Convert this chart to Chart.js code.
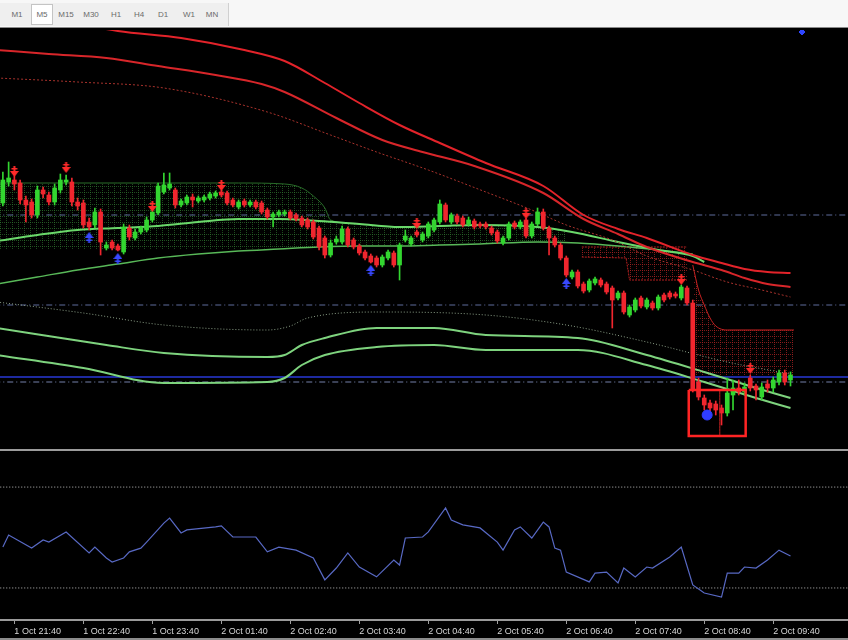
<!DOCTYPE html>
<html>
<head>
<meta charset="utf-8">
<script src="https://cdn.jsdelivr.net/npm/chart.js@4.4.1/dist/chart.umd.min.js"></script>
<style>
  html, body { margin: 0; padding: 0; background: #000; }
  body { width: 848px; height: 640px; position: relative; overflow: hidden; font-family: 'Liberation Sans', Arial, sans-serif; }
  #toolbar { position: absolute; left: 0; top: 0; width: 848px; height: 28px; background: #f7f7f7; border-bottom: 1px solid #8a8a8a; box-sizing: border-box; }
  #tfbar { position: absolute; left: 0; top: 3px; width: 228px; height: 23px; background: #efefef; border-right: 1px solid #d0d0d0; }
  #tfbar span { position: absolute; top: 1px; width: 22px; height: 21px; line-height: 21px; text-align: center; font-size: 8px; color: #6a6a6a; }
  #tfbar span.on { background: #fff; border: 1px solid #c4c4c4; box-sizing: border-box; line-height: 19px; }
  #main { position: absolute; left: 0; top: 30px; }
  #sep { position: absolute; left: 0; top: 449px; width: 848px; height: 2px; background: #9c9c9c; }
  #sub { position: absolute; left: 0; top: 452px; }
  #foot { position: absolute; left: 0; top: 638px; width: 848px; height: 2px; background: #8c8c8c; }
</style>
</head>
<body>
<div id="toolbar">
  <div id="tfbar">
    <span style="left:6px">M1</span>
    <span class="on" style="left:31px">M5</span>
    <span style="left:55px">M15</span>
    <span style="left:80px">M30</span>
    <span style="left:105px">H1</span>
    <span style="left:128px">H4</span>
    <span style="left:152px">D1</span>
    <span style="left:178px">W1</span>
    <span style="left:201px">MN</span>
  </div>
</div>
<canvas id="main" width="848" height="418"></canvas>
<div id="sep"></div>
<canvas id="sub" width="848" height="188"></canvas>
<div id="foot"></div>
<script>
// time axis
const timeLabels = ['1 Oct 21:40', '1 Oct 22:40', '1 Oct 23:40', '2 Oct 01:40', '2 Oct 02:40', '2 Oct 03:40',
                    '2 Oct 04:40', '2 Oct 05:40', '2 Oct 06:40', '2 Oct 07:40', '2 Oct 08:40', '2 Oct 09:40'];
const tickBars = [2, 14, 26, 38, 50, 62, 74, 86, 98, 110, 122, 134];

// M5 candles, prices in points above the window base
const opens = [245,266,268,265,248,246,233,258,253,246, 258,266,266,246,245,226,223,236,200,206,
               202,196,220,210,216,218,228,235,256,260, 258,243,245,251,247,248,250,252,256,255,
               248,241,247,243,246,245,238,231,233,234, 236,233,230,228,226,220,210,193,206,206,
               219,208,202,196,192,190,183,190,195,183, 208,204,216,208,212,218,226,243,226,232,
               230,224,227,224,224,220,216,205,210,225, 221,228,212,224,236,220,210,203,190,171,
               176,164,158,165,168,164,160,150,155,133, 138,150,141,145,140,153,155,154,150,160,
               145,66,50,45,44,40,35,53,60,56, 70,62,51,64,60,66,75,68];
const highs = [276,286,272,268,252,249,262,261,256,264, 274,273,270,250,248,230,240,239,206,208,
               204,224,223,219,222,231,239,265,275,275, 260,249,253,254,252,253,256,257,258,257,
               250,248,249,248,248,247,240,236,238,238, 238,235,232,230,228,222,212,208,212,222,
               221,210,204,198,194,192,193,198,197,205, 218,212,218,216,226,230,248,245,235,234,
               232,231,229,226,226,222,218,212,226,227, 228,230,226,240,239,222,212,205,192,178,
               178,166,169,171,170,166,162,157,157,143, 150,152,150,147,153,155,157,156,163,162,
               148,70,53,48,47,43,70,68,68,65, 73,64,65,68,71,78,78,76];
const lows = [242,262,258,244,226,230,230,250,243,243, 255,263,242,238,220,218,220,193,198,198,
              197,194,208,208,214,216,226,233,254,258, 240,241,243,241,245,246,248,250,251,243,
              241,239,241,241,239,234,229,221,231,232, 228,227,221,219,209,198,190,191,204,204,
              201,199,193,188,185,181,181,188,181,168, 206,202,211,206,210,216,224,226,224,224,
              221,222,219,220,219,213,205,203,208,219, 219,210,210,222,218,193,201,188,171,169,
              160,155,156,163,161,154,120,148,134,131, 136,140,139,138,138,146,149,150,148,143,
              56,48,38,30,33,23,32,38,53,53, 57,48,48,56,56,63,63,62];
const closes = [268,270,264,248,243,233,258,254,246,260, 268,268,246,242,223,221,236,206,203,200,
                198,221,211,216,220,228,236,262,263,264, 243,247,251,248,250,251,254,255,253,245,
                243,246,243,246,241,236,231,234,236,236, 230,229,223,221,211,201,193,205,209,219,
                203,201,195,190,186,183,191,196,183,203, 212,210,213,214,224,228,244,228,233,226,
                223,228,221,222,221,215,207,210,224,221, 226,212,224,236,220,210,203,190,173,176,
                162,157,167,169,163,156,148,155,136,141, 148,142,148,140,151,148,151,152,161,145,
                58,51,43,40,38,35,55,60,56,61, 60,58,61,60,68,75,66,73];

// signal arrows [bar, price]
const sellSignals = [[2, 276], [11, 280], [26, 241], [38, 262], [72, 224], [91, 234], [118, 168], [130, 79]];
const buySignals = [[15, 211], [20, 190], [64, 178], [98, 165]];
const buyDot = [[122.5, 33]];
const cornerMark = [[139, 416]];

// upper red envelope [bar, price]
const redUpper = [[10,428],[20,417],[31,410],[42,398],[49,387],[56,365],[62,345],[69,323],[76,305],[84,285],
                  [94,262],[101,233],[107,219],[112,210],[120,193],[125,185],[129,179],[133,176],[137,175]];
const redMiddle = [[-1,398],[8,394],[18,390],[27,382],[37,373],[45,364],[49,356],[58,330],[66,308],[73,296],
                   [82,282],[94,255],[101,229],[107,214],[112,201],[120,186],[125,178],[129,170],[133,164],[137,161]];
const redDotted = [[-1,370],[13,366],[28,360],[46,336],[57,313],[65,296],[74,278],[84,256],[92,238],[98,223],
                   [106,208],[112,192],[120,178],[126,166],[132,158],[137,151]];

// green averages
const greenMa = [[-1,207],[6,213],[13,218],[20,220],[27,222],[34,226],[41,229],[48,229],[55,227],[62,224],
                 [69,221],[76,222],[83,223],[93,221],[99,216],[107,206],[114,198],[120,192],[122,186]];
const greenBase = [[-1,164],[6,171],[13,178],[20,184],[27,190],[34,194],[41,197],[48,199],[55,201],[62,202],
                   [69,202],[76,203],[83,204],[93,206],[100,205],[107,202],[114,198],[120,194]];

// lower channel
const bandDotted = [[-1,146],[14,135],[28,123],[46,118],[50,122],[53,130],[66,136],[84,133],[98,123],
                    [112,106],[126,86],[137,74]];
const bandUpper = [[-1,120],[18,103],[28,95],[46,91],[49,93],[52,103],[56,110],[65,120],[75,120],[84,113],
                   [100,110],[112,93],[122,76],[131,60],[137,50]];
const bandLower = [[-1,93],[14,80],[28,65],[46,66],[49,70],[52,83],[56,93],[65,101],[75,103],[84,98],
                   [100,98],[112,83],[122,66],[131,50],[137,40]];

// hatched zones
const cloudBars = [-1, 20, 41, 49, 52, 54, 56, 57, 62, 69, 76, 83, 93, 98];
const cloudTop = [265, 265, 265, 264, 260, 252, 240, 228, 224, 221, 222, 223, 221, 217];
const cloudBottom = [199, 199, 199, 200, 200, 200, 200, 200, 202, 202, 203, 204, 206, 205];
const supplyBars = [100.7, 108.4, 109, 119];
const supplyTop = [201, 201, 201, 201];
const supplyBottom = [191, 190, 168, 168];
const stopBars = [120, 121, 122, 123, 124, 126, 137.6];
const stopTop = [183, 158, 143, 130, 122, 118, 118];
const stopBottom = [73, 73, 73, 73, 73, 73, 73];

// marked box around the low
const boxBars = [119.3, 129.2];
const boxPrices = [12, 58];
const boxSplitBar = 124.7;

// horizontal levels
const levelValues = [233, 143, 71, 66];

// oscillator sub-window
const subBars = [0,1,5,7,8,11,15,16,18,19,21,22,24,25,28,29,31,32,37,38,40,44,46,48,51,54,56,58,60,62,
                 65,68,69,70,73,74,77,78,80,83,86,87,89,90,92,94,95,96,97,98,102,103,105,107,108,110,
                 112,113,116,118,120,122,125,126,128,129,131,133,135,137];
const subValues = [46.2,51.0,45.8,49.0,48.2,52.2,43.9,46.2,41.9,40.3,41.9,44.3,45.8,48.2,55.7,57.7,51.8,53.0,
                   54.2,54.6,50.2,50.2,44.3,46.2,45.0,41.9,33.2,37.9,43.9,38.3,34.4,41.1,39.1,49.8,50.2,52.2,
                   61.7,56.9,55.0,53.8,48.2,45.0,53.0,54.2,49.8,56.1,54.2,45.8,45.0,36.3,32.4,35.9,36.3,32.0,
                   37.9,34.4,38.3,37.9,42.3,46.2,31.2,28.0,26.4,35.9,35.9,38.3,37.9,41.1,45.0,42.7];
const subLevels = [70, 30];

const X_MIN = -0.5, X_MAX = 147;
const UP = '#33d630', DOWN = '#f0262e';

const pts = arr => arr.map(([x, y]) => ({ x, y }));
const zip = (xs, ys) => xs.map((x, i) => ({ x, y: ys[i] }));

function hatch(color) {
    const c = document.createElement('canvas');
    c.width = 6; c.height = 6;
    const g = c.getContext('2d');
    g.fillStyle = color;
    for (let i = 0; i < 6; i += 2) {
        g.fillRect(0, i, 1, 1);
        g.fillRect(i, 0, 1, 1);
    }
    return g.createPattern(c, 'repeat');
}

function arrow(color, down) {
    const c = document.createElement('canvas');
    c.width = 9; c.height = 12;
    const g = c.getContext('2d');
    g.fillStyle = color;
    if (down) {
        g.fillRect(3.5, 0, 2, 6);
        g.fillRect(1.5, 2, 6, 1.5);
        g.beginPath(); g.moveTo(0, 5); g.lineTo(9, 5); g.lineTo(4.5, 11); g.closePath(); g.fill();
    } else {
        g.fillRect(3.5, 6, 2, 6);
        g.fillRect(1.5, 8.5, 6, 1.5);
        g.beginPath(); g.moveTo(0, 7); g.lineTo(9, 7); g.lineTo(4.5, 1); g.closePath(); g.fill();
    }
    return c;
}

const candleColor = ctx => closes[ctx.dataIndex] >= opens[ctx.dataIndex] ? UP : DOWN;

const bodies = opens.map((o, i) => ({ x: i, y: [Math.min(o, closes[i]), Math.max(o, closes[i])] }));
const wicks = lows.map((l, i) => ({ x: i, y: [l, highs[i]] }));

function lineSet(data, color, width, dash) {
    return {
        type: 'line', data: data, borderColor: color, borderWidth: width, borderDash: dash || [],
        pointRadius: 0, fill: false, cubicInterpolationMode: 'monotone'
    };
}

function markerSet(data, style, color) {
    return {
        type: 'line', data: pts(data), showLine: false, pointStyle: style,
        pointRadius: 5, backgroundColor: color, borderColor: color
    };
}

const levelSets = levelValues.map((v, i) => {
    const styles = [['#5f6c9c', 1, [6, 3, 1, 3]], ['#5f6c9c', 1, [6, 3, 1, 3]], ['#1e2aa0', 2, []], ['#7480aa', 1, [6, 3, 1, 3]]];
    const [c, w, d] = styles[i];
    return lineSet([{ x: X_MIN - 1, y: v }, { x: X_MAX + 1, y: v }], c, w, d);
});

const boxOutline = [
    { x: boxBars[0], y: boxPrices[1] }, { x: boxBars[1], y: boxPrices[1] },
    { x: boxBars[1], y: boxPrices[0] }, { x: boxBars[0], y: boxPrices[0] },
    { x: boxBars[0], y: boxPrices[1] }
];

const mainDatasets = [
    markerSet(buyDot, 'circle', '#2f3dff'),
    markerSet(sellSignals, arrow('#ff2a2a', true), '#ff2a2a'),
    markerSet(buySignals, arrow('#3848ff', false), '#3848ff'),
    Object.assign(markerSet(cornerMark, 'rectRot', '#2f46ff'), { pointRadius: 3 }),
    Object.assign(lineSet(boxOutline, '#ff2424', 2.5), { cubicInterpolationMode: 'default', tension: 0 }),
    lineSet([{ x: boxSplitBar, y: boxPrices[0] }, { x: boxSplitBar, y: boxPrices[1] }], '#c02020', 1),
    {
        type: 'bar', data: bodies, backgroundColor: candleColor, barThickness: 4,
        minBarLength: 1, grouped: false, borderWidth: 0
    },
    {
        type: 'bar', data: wicks, backgroundColor: candleColor, barThickness: 1,
        grouped: false, borderWidth: 0
    },
    lineSet(pts(redUpper), '#e3232a', 2),
    lineSet(pts(redMiddle), '#d8262a', 2),
    lineSet(pts(redDotted), '#a8322c', 1, [2, 2]),
    lineSet(pts(greenMa), '#6ad86a', 2),
    lineSet(pts(greenBase), '#58b858', 1.5),
    lineSet(pts(bandDotted), '#8a9e86', 1, [1, 2]),
    lineSet(pts(bandUpper), '#7ed37e', 2),
    lineSet(pts(bandLower), '#7ed37e', 2),
    ...levelSets,
    Object.assign(lineSet(zip(cloudBars, cloudTop), '#2a6e2a', 1),
        { fill: '+1', backgroundColor: hatch('rgba(50,125,50,0.6)') }),
    lineSet(zip(cloudBars, cloudBottom), 'rgba(0,0,0,0)', 0),
    Object.assign(lineSet(zip(supplyBars, supplyTop), '#b82020', 1, [2, 1]),
        { fill: '+1', backgroundColor: hatch('rgba(175,35,35,0.7)'), cubicInterpolationMode: 'default' }),
    Object.assign(lineSet(zip(supplyBars, supplyBottom), '#b82020', 1, [2, 1]), { cubicInterpolationMode: 'default' }),
    Object.assign(lineSet(zip(stopBars, stopTop), '#c82222', 1),
        { fill: '+1', backgroundColor: hatch('rgba(175,35,35,0.7)') }),
    lineSet(zip(stopBars, stopBottom), 'rgba(0,0,0,0)', 0)
];

new Chart(document.getElementById('main'), {
    type: 'bar',
    data: { datasets: mainDatasets },
    options: {
        responsive: false,
        animation: false,
        devicePixelRatio: 1,
        layout: { padding: 0, autoPadding: false },
        plugins: { legend: { display: false }, tooltip: { enabled: false } },
        scales: {
            x: { type: 'linear', min: X_MIN, max: X_MAX, offset: false, display: false },
            y: { type: 'linear', min: 0, max: 418, display: false }
        }
    }
});

new Chart(document.getElementById('sub'), {
    type: 'line',
    data: {
        datasets: [
            Object.assign(lineSet(zip(subBars, subValues), '#5869c4', 1.2), { cubicInterpolationMode: 'default', tension: 0 }),
            ...subLevels.map(v => lineSet([{ x: X_MIN - 1, y: v }, { x: X_MAX + 1, y: v }], '#bdbdbd', 1, [1, 2]))
        ]
    },
    options: {
        responsive: false,
        animation: false,
        devicePixelRatio: 1,
        layout: { padding: 0, autoPadding: false },
        plugins: { legend: { display: false }, tooltip: { enabled: false } },
        scales: {
            x: {
                type: 'linear', min: X_MIN, max: X_MAX, offset: false, position: 'bottom',
                afterBuildTicks: s => { s.ticks = tickBars.map(v => ({ value: v })); },
                afterFit: s => { s.height = 20; },
                ticks: {
                    autoSkip: false, maxRotation: 0, align: 'start', padding: 2,
                    color: '#d6d6d6', font: { family: 'Liberation Sans', size: 9 },
                    callback: (v, i) => timeLabels[i]
                },
                grid: { drawOnChartArea: false, drawTicks: true, tickLength: 4, color: '#a0a0a0' },
                border: { display: true, color: '#9a9a9a', width: 2 }
            },
            y: { type: 'linear', min: 17.3, max: 83.9, display: false }
        }
    }
});
</script>
</body>
</html>
